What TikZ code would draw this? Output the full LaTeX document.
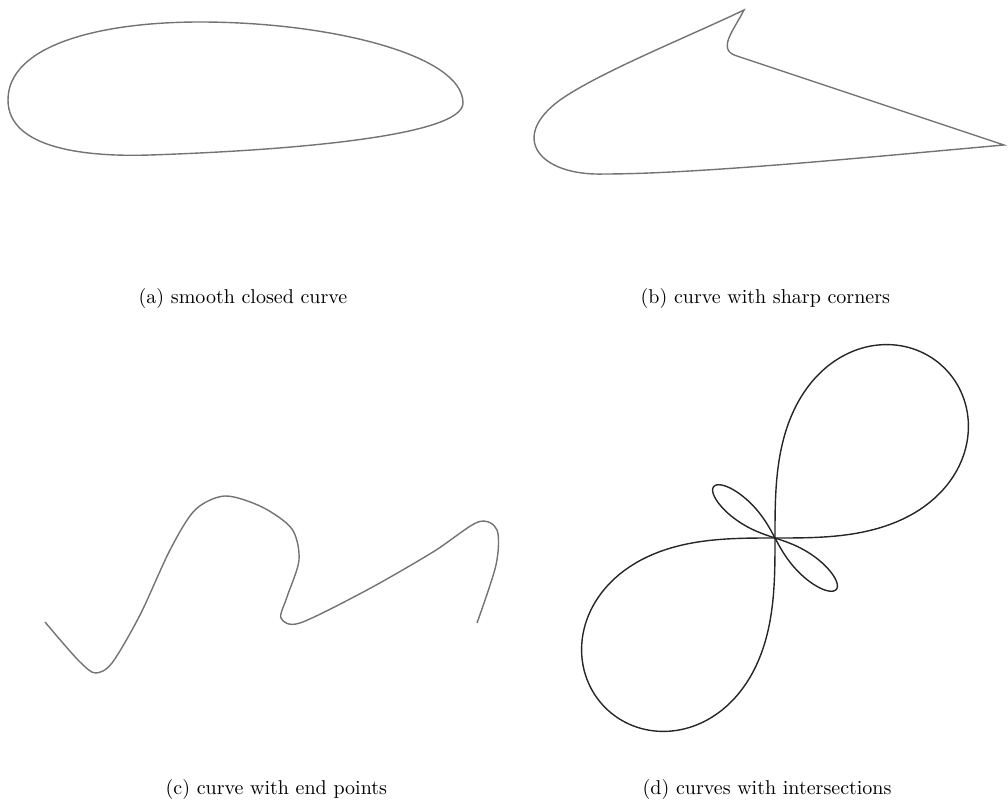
\documentclass[tikz,border=0pt]{standalone}
\usepackage{tikz}
\usetikzlibrary{positioning}
\tikzset{every picture/.style={line width=0.7pt}}
\tikzset{
    faint/.style={draw=black!55, line join=round},
    dark/.style={draw=black!85, line join=round},
    caption/.style={anchor=base west, inner sep=0pt, font=\normalsize}
}

\begin{document}
\begin{tikzpicture}[x=0.5pt, y=-0.5pt]
    \useasboundingbox (0,0) rectangle (1008,808);
    % (a)
    \coordinate (aleft) at (8,100);
    \coordinate (atop) at (200,22);
    \coordinate (aright) at (463,103);
    \coordinate (abottom) at (150,155);
    \draw[faint] (aleft) .. controls (8,45) and (100,22) .. (atop)
        .. controls (330,22) and (463,55) .. (aright)
        .. controls (463,135) and (300,150) .. (abottom)
        .. controls (90,157) and (8,150) .. (aleft) -- cycle;
    % (b)
    \coordinate (btip) at (744,10);
    \coordinate (bnotch) at (737,56);
    \coordinate (bend) at (1004,145);
    \coordinate (bfoot) at (604,174);
    \coordinate (bheel) at (560,100);
    \draw[faint, line join=miter] (btip) .. controls (734,30) and (716,50) .. (bnotch)
        -- (bend)
        .. controls (880,156) and (700,174) .. (bfoot)
        .. controls (540,176) and (508,138) .. (bheel)
        .. controls (600,72) and (690,36) .. (btip) -- cycle;
    % (c)
    \draw[faint] plot[smooth] coordinates {
        (45,622) (62,642) (80,662) (95,673) (112,663) (140,615) (170,550)
        (195,510) (225,496) (262,507) (292,529) (299,560) (287,597)
        (281,618) (300,623) (367,590) (433,552) (478,522) (497,530)
        (496,565) (477,623)};
    % (d)
    \coordinate (mid) at (775,538);
    \begin{scope}[shift={(mid)}, x=0.5pt, y=0.5pt]
        \draw[dark, rotate=45] plot[domain=0:360, samples=181, smooth]
            ({240*cos(\x)/(1+pow(sin(\x),2))},
             {240*sin(\x)*cos(\x)/(1+pow(sin(\x),2))});
        \draw[dark, rotate=140] plot[domain=0:360, samples=121, smooth]
            ({80*cos(\x)/(1+pow(sin(\x),2))},
             {32*sin(\x)*cos(\x)/(1+pow(sin(\x),2))});
    \end{scope}
    % captions
    \node[caption] (capa) at (138,303) {(a) smooth closed curve};
    \node[caption] (capb) at (640,303) {(b) curve with sharp corners};
    \node[caption] (capc) at (165,794) {(c) curve with end points};
    \node[caption] (capd) at (642,794) {(d) curves with intersections};
\end{tikzpicture}
\end{document}
